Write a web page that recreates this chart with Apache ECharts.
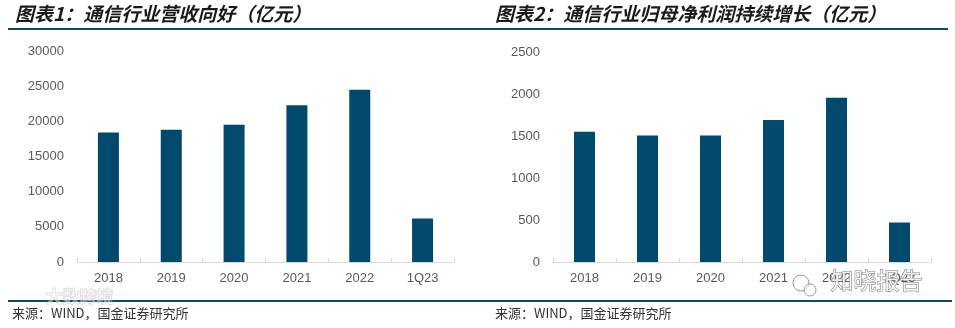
<!DOCTYPE html>
<html>
<head>
<meta charset="utf-8">
<script src="https://cdn.jsdelivr.net/npm/echarts@6/dist/echarts.min.js"></script>
<style>
  html, body { margin: 0; padding: 0; background: #fff; }
  #main { width: 955px; height: 328px; }
</style>
</head>
<body>
<div id="main"></div>
<script>
// Categories shared by both panels
var categories = ['2018', '2019', '2020', '2021', '2022', '1Q23'];

// Panel 1: industry revenue (亿元)
var revenue = [18400, 18800, 19500, 22300, 24500, 6200];
var revenueTicks = [0, 5000, 10000, 15000, 20000, 25000, 30000];

// Panel 2: net profit attributable to parent (亿元)
var netProfit = [1550, 1505, 1505, 1690, 1955, 470];
var profitTicks = [0, 500, 1000, 1500, 2000, 2500];

var titleLeft = '图表1：通信行业营收向好（亿元）';
var titleRight = '图表2：通信行业归母净利润持续增长（亿元）';
var sourceText = '来源：WIND，国金证券研究所';

var barColor = '#024A6D';
var ruleColor = '#0F4A63';
var labelColor = '#595959';
var axisColor = '#D9D9D9';

function xAxisFor(gridIndex) {
  return {
    type: 'category',
    gridIndex: gridIndex,
    data: categories,
    axisLine: { lineStyle: { color: axisColor, width: 1 } },
    axisTick: { show: true, inside: true, length: 4, alignWithLabel: false, lineStyle: { color: axisColor } },
    axisLabel: { color: labelColor, fontSize: 13, fontFamily: 'Liberation Sans, Arial, sans-serif', margin: 10 },
    splitLine: { show: false }
  };
}

function yAxisFor(gridIndex, ticks) {
  return {
    type: 'value',
    gridIndex: gridIndex,
    min: ticks[0],
    max: ticks[ticks.length - 1],
    interval: ticks[1] - ticks[0],
    axisLine: { show: false },
    axisTick: { show: false },
    splitLine: { show: false },
    axisLabel: {
      color: labelColor, fontSize: 13, fontFamily: 'Liberation Sans, Arial, sans-serif', margin: 13,
      formatter: function (v) { return String(v); }
    }
  };
}

var chart = echarts.init(document.getElementById('main'), null, { renderer: 'canvas' });

chart.setOption({
  animation: false,
  backgroundColor: '#ffffff',
  grid: [
    { left: 77, top: 51, width: 377, height: 211 },
    { left: 553, top: 52, width: 378, height: 210 }
  ],
  xAxis: [xAxisFor(0), xAxisFor(1)],
  yAxis: [yAxisFor(0, revenueTicks), yAxisFor(1, profitTicks)],
  series: [
    {
      type: 'bar',
      xAxisIndex: 0,
      yAxisIndex: 0,
      data: revenue,
      barWidth: 21,
      itemStyle: { color: barColor }
    },
    {
      type: 'bar',
      xAxisIndex: 1,
      yAxisIndex: 1,
      data: netProfit,
      barWidth: 21,
      itemStyle: { color: barColor }
    }
  ],
  graphic: [
    // panel headings
    {
      type: 'text', left: 15, top: 4,
      style: { text: titleLeft, fill: '#1A1A1A', font: 'italic bold 19px "Noto Sans CJK SC", sans-serif' }
    },
    {
      type: 'text', left: 495, top: 4,
      style: { text: titleRight, fill: '#1A1A1A', font: 'italic bold 19px "Noto Sans CJK SC", sans-serif' }
    },
    // heading rule
    {
      type: 'rect', shape: { x: 8, y: 28, width: 940, height: 2 },
      style: { fill: ruleColor }
    },
    // footer rule
    {
      type: 'rect', shape: { x: 8, y: 300, width: 944, height: 2 },
      style: { fill: ruleColor }
    },
    // source notes
    {
      type: 'text', left: 12, top: 307,
      style: { text: sourceText, fill: '#333333', font: '13px "Noto Sans CJK SC", sans-serif' }
    },
    {
      type: 'text', left: 495, top: 307,
      style: { text: sourceText, fill: '#333333', font: '13px "Noto Sans CJK SC", sans-serif' }
    },
    // faint marks over the footer area
    {
      type: 'text', left: 45, top: 288, z: 50,
      style: { text: '大数跨境', fill: 'rgba(255,255,255,0.4)', stroke: 'rgba(170,170,170,0.45)', lineWidth: 1, font: 'bold 17px "Noto Sans CJK SC", sans-serif' }
    },
    {
      type: 'circle', z: 50, shape: { cx: 801, cy: 283, r: 8 },
      style: { fill: 'rgba(255,255,255,0.6)', stroke: '#9a9a9a', lineWidth: 1 }
    },
    {
      type: 'circle', z: 50, shape: { cx: 810, cy: 290, r: 6 },
      style: { fill: 'rgba(255,255,255,0.6)', stroke: '#9a9a9a', lineWidth: 1 }
    },
    {
      type: 'text', left: 830, top: 268, z: 50,
      style: { text: '知晓报告', fill: 'rgba(255,255,255,0.85)', stroke: '#7a7a7a', lineWidth: 1, font: '23px "Noto Sans CJK SC", sans-serif' }
    }
  ]
});
</script>
</body>
</html>
